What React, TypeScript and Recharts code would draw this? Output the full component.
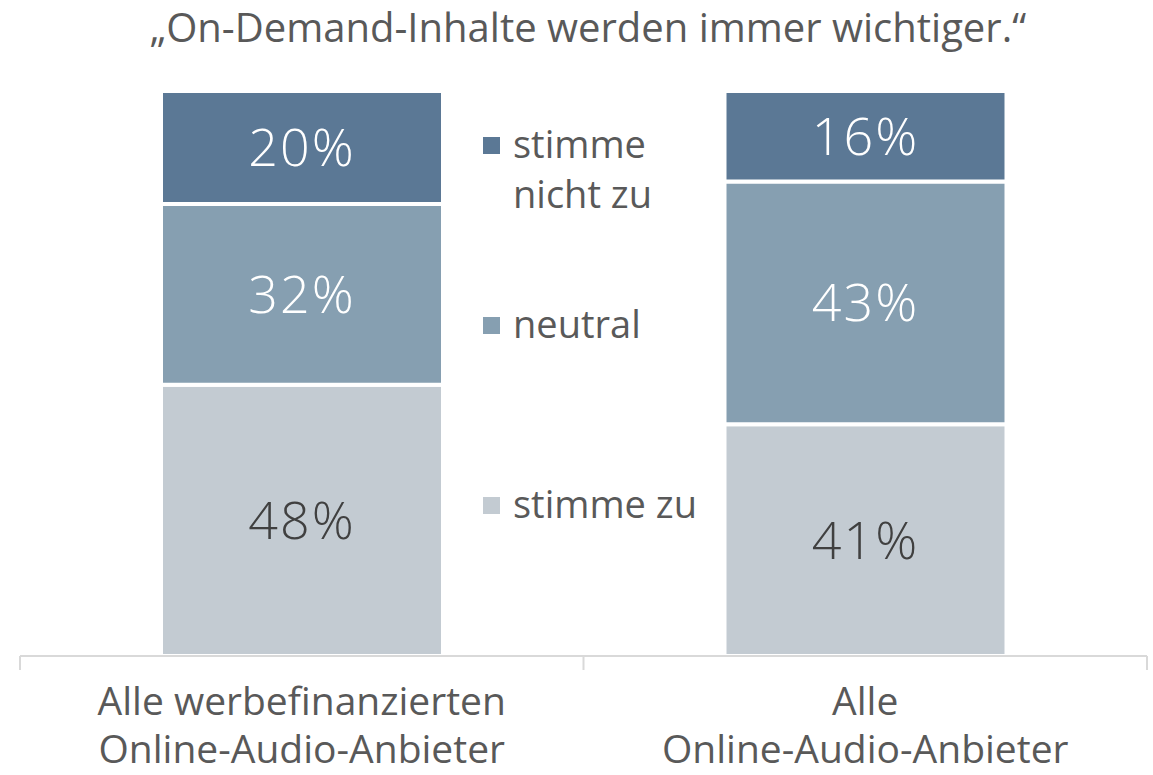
import { BarChart, Bar, XAxis, YAxis, LabelList } from "recharts";

const categories = [
  "Alle werbefinanzierten Online-Audio-Anbieter",
  "Alle Online-Audio-Anbieter",
];
const categoryLines = [
  ["Alle werbefinanzierten", "Online-Audio-Anbieter"],
  ["Alle", "Online-Audio-Anbieter"],
];
const stimmeZu = [48, 41];
const neutral = [32, 43];
const stimmeNichtZu = [20, 16];
// band edges on the bottom axis (0 | 1 | 2)
const edgeTicks = [0, 1, 2];

const series = [
  { key: "stimmeZu", name: "stimme zu", color: "#c3cbd2", text: "#404040" },
  { key: "neutral", name: "neutral", color: "#869fb1", text: "#ffffff" },
  { key: "stimmeNichtZu", name: "stimme nicht zu", color: "#5b7895", text: "#ffffff" },
];

const data = categories.map((c, i) => ({
  category: c,
  pos: i + 0.5,
  stimmeZu: stimmeZu[i],
  neutral: neutral[i],
  stimmeNichtZu: stimmeNichtZu[i],
}));

const FONT = "'Open Sans', 'DejaVu Sans', sans-serif";

function CategoryTick(props: any) {
  const { x, y, payload } = props;
  const lines = categoryLines[payload.index] ?? [payload.value];
  return (
    <text
      x={x}
      y={y}
      textAnchor="middle"
      fill="#595959"
      fontSize={39}
      fontFamily={FONT}
    >
      {lines.map((l: string, i: number) => (
        <tspan key={i} x={x} dy={i === 0 ? 35 : 48}>
          {l}
        </tspan>
      ))}
    </text>
  );
}

function EmptyTick() {
  return <g />;
}

// legend on the right of the first bar, top to bottom
function SideLegend() {
  const items = [...series].reverse();
  return (
    <div
      style={{
        position: "absolute",
        left: 483,
        top: 118,
        width: 240,
        fontFamily: FONT,
      }}
    >
      {items.map((it) => (
        <div
          key={it.key}
          style={{ display: "flex", alignItems: "flex-start", height: 180 }}
        >
          <div
            style={{
              width: 17,
              height: 17,
              background: it.color,
              marginTop: 19,
              marginRight: 13,
              flexShrink: 0,
            }}
          />
          <div
            style={{
              fontSize: 38,
              lineHeight: "50px",
              color: "#595959",
              width: 190,
            }}
          >
            {it.name}
          </div>
        </div>
      ))}
    </div>
  );
}

export default function App() {
  return (
    <div
      style={{
        position: "absolute",
        left: 0,
        top: 0,
        width: 1153,
        height: 775,
        background: "#fff",
      }}
    >
      <BarChart
        width={1153}
        height={775}
        data={data}
        margin={{ top: 91, right: 6, left: 20, bottom: 0 }}
        barSize={282}
      >
        <XAxis
          xAxisId={0}
          type="number"
          dataKey="pos"
          domain={[0, 2]}
          allowDataOverflow
          ticks={edgeTicks}
          interval={0}
          tick={<EmptyTick />}
          tickSize={14}
          height={16}
          axisLine={{ stroke: "#d9d9d9", strokeWidth: 2 }}
          tickLine={{ stroke: "#d9d9d9", strokeWidth: 2 }}
        />
        <XAxis
          xAxisId={1}
          dataKey="category"
          axisLine={false}
          tickLine={false}
          height={103}
          interval={0}
          tick={<CategoryTick />}
        />
        <YAxis hide domain={[0, 100]} />
        {series.map((s) => (
          <Bar
            key={s.key}
            xAxisId={1}
            dataKey={s.key}
            name={s.name}
            stackId="a"
            fill={s.color}
            stroke="#ffffff"
            strokeWidth={4}
            isAnimationActive={false}
          >
            <LabelList
              dataKey={s.key}
              position="center"
              formatter={(v: any) => `${v}%`}
              fill={s.text}
              fontSize={52}
              fontFamily={FONT}
              fontWeight={300}
              letterSpacing={2}
            />
          </Bar>
        ))}
      </BarChart>
      <div
        style={{
          position: "absolute",
          top: 7,
          left: 0,
          width: 1176,
          textAlign: "center",
          fontFamily: FONT,
          fontSize: 40,
          lineHeight: "40px",
          color: "#595959",
          whiteSpace: "nowrap",
        }}
      >
        „On-Demand-Inhalte werden immer wichtiger.“
      </div>
      <SideLegend />
    </div>
  );
}
